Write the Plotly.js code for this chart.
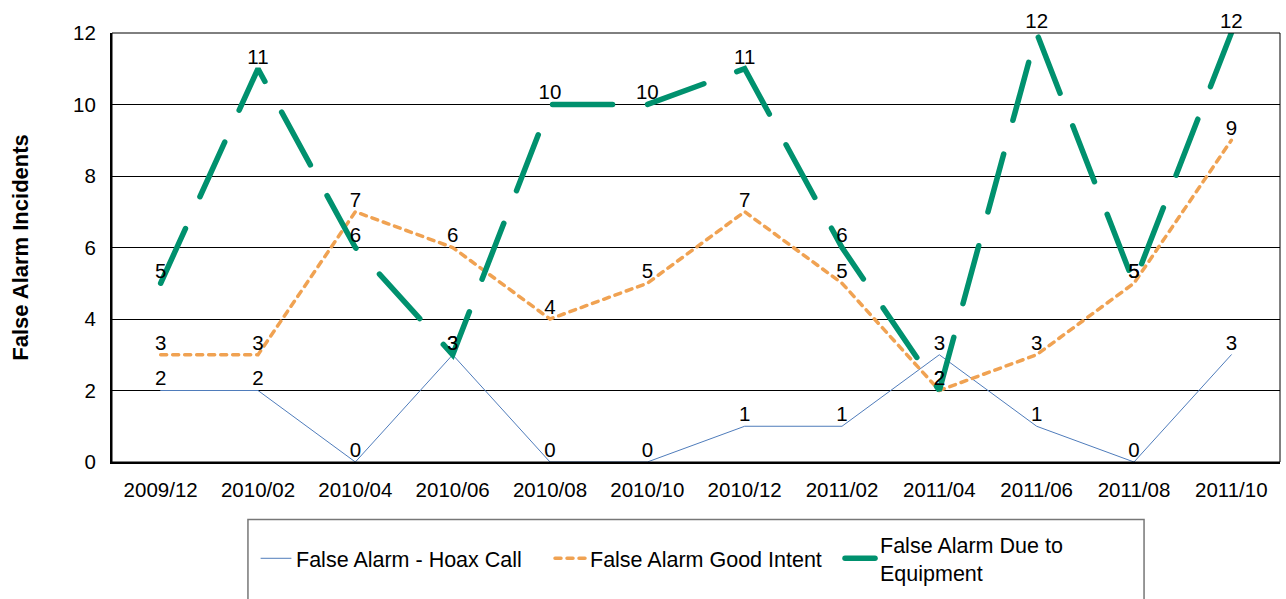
<!DOCTYPE html>
<html>
<head>
<meta charset="utf-8">
<script src="https://cdn.plot.ly/plotly-3.0.1.min.js"></script>
<style>
html,body{margin:0;padding:0;background:#fff;}
#chart{width:1286px;height:599px;}
.scatterlayer .js-line, .legendlines path{stroke-linecap:round;}
</style>
</head>
<body>
<div id="chart"></div>
<script>
const categories = ["2009/12","2010/02","2010/04","2010/06","2010/08","2010/10","2010/12","2011/02","2011/04","2011/06","2011/08","2011/10"];
const hoaxCall = [2,2,0,3,0,0,1,1,3,1,0,3];
const goodIntent = [3,3,7,6,4,5,7,5,2,3,5,9];
const equipment = [5,11,6,3,10,10,11,6,2,12,5,12];
const seriesNames = ["False Alarm - Hoax Call","False Alarm Good Intent","False Alarm Due to<br>Equipment"];
const yTicks = [0,2,4,6,8,10,12];

const font = "Liberation Sans, Arial, sans-serif";
const fs = 20.5;
const labelFont = {family: font, size: fs, color: "#000"};

const traces = [
  {x: categories, y: hoaxCall, name: seriesNames[0], mode: "lines+text", legend: "legend",
   text: hoaxCall.map(String), textposition: "top center", textfont: labelFont,
   line: {color: "#4F7CBB", width: 1}, cliponaxis: false},
  {x: categories, y: goodIntent, name: seriesNames[1], mode: "lines+text", legend: "legend2",
   text: goodIntent.map(String), textposition: "top center", textfont: labelFont,
   line: {color: "#F0A252", width: 3.5, dash: "6px,6px"}, cliponaxis: false},
  {x: categories, y: equipment, name: seriesNames[2], mode: "lines+text", legend: "legend3",
   text: equipment.map(String), textposition: "top center", textfont: labelFont,
   line: {color: "#00916E", width: 5.5, dash: "60px,35px"}, cliponaxis: false}
];

const legendBase = {
  orientation: "h", xanchor: "left", y: -0.2245, yanchor: "middle",
  font: {family: font, size: 21.5, color: "#000"},
  bgcolor: "rgba(0,0,0,0)", borderwidth: 0
};

const layout = {
  width: 1286, height: 599,
  margin: {l: 112, r: 6, t: 33, b: 134},
  paper_bgcolor: "#fff", plot_bgcolor: "#fff",
  font: {family: font, size: fs, color: "#000"},
  showlegend: true,
  xaxis: {
    type: "category", range: [-0.5, 11.5],
    showgrid: false, zeroline: false,
    showline: true, linecolor: "#000", linewidth: 2,
    ticks: "", ticklabelstandoff: 8, tickfont: {family: font, size: fs, color: "#000"},
    fixedrange: true
  },
  yaxis: {
    range: [0, 12], tickvals: yTicks, ticktext: yTicks.map(String),
    showgrid: true, gridcolor: "#000", gridwidth: 1,
    zeroline: false, showline: true, linecolor: "#000", linewidth: 2,
    ticks: "", ticklabelstandoff: 10, tickfont: {family: font, size: fs, color: "#000"},
    title: {text: "<b>False Alarm Incidents</b>", font: {family: font, size: 22, color: "#000"}, standoff: 38},
    fixedrange: true
  },
  legend: Object.assign({}, legendBase, {x: 0.1233}),
  legend2: Object.assign({}, legendBase, {x: 0.3750}),
  legend3: Object.assign({}, legendBase, {x: 0.6233}),
  shapes: [
    {type: "rect", xref: "paper", yref: "paper", x0: 0, x1: 1, y0: 0, y1: 1,
     line: {color: "#000", width: 1}, fillcolor: "rgba(0,0,0,0)", layer: "above"},
    {type: "rect", xref: "paper", yref: "paper", x0: 0.1164, x1: 0.8836, y0: -0.1343, y1: -0.40,
     line: {color: "#777", width: 1.5}, fillcolor: "rgba(0,0,0,0)"}
  ]
};

Plotly.newPlot("chart", traces, layout, {displayModeBar: false, staticPlot: true});
</script>
</body>
</html>
